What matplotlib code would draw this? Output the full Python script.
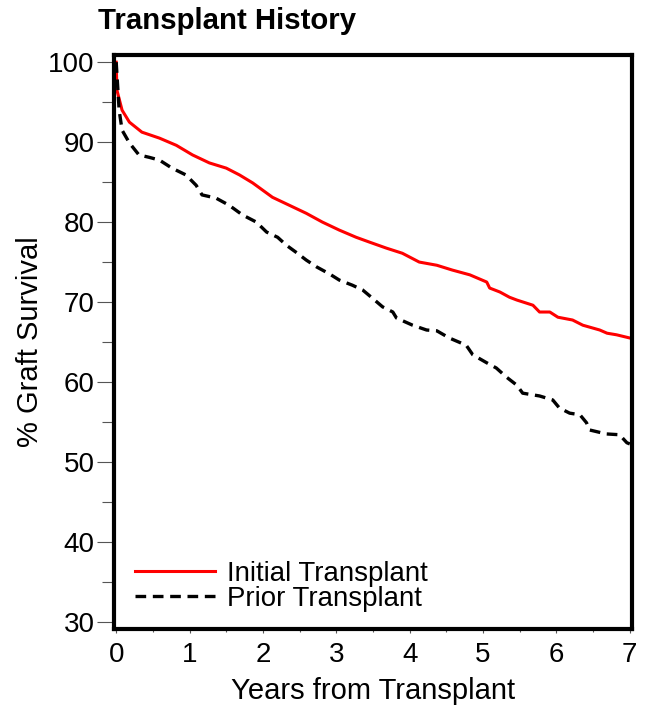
import numpy as np
import matplotlib
matplotlib.use("Agg")
import matplotlib.pyplot as plt
from matplotlib.ticker import MultipleLocator

plt.rcParams['font.family'] = ['Liberation Sans', 'DejaVu Sans']

# -----------------
# data
# -----------------
initial_years = [0.0, 0.01, 0.08, 0.18, 0.35, 0.59, 0.82, 1.04, 1.27, 1.50, 1.68,
                 1.86, 2.13, 2.36, 2.59, 2.81, 3.04, 3.27, 3.45, 3.68, 3.90, 4.13,
                 4.37, 4.58, 4.82, 5.05, 5.09, 5.23, 5.36, 5.46, 5.68, 5.77, 5.91,
                 6.02, 6.22, 6.36, 6.59, 6.69, 6.82, 7.0]
initial_surv = [100.0, 96.5, 94.0, 92.5, 91.25, 90.5, 89.6, 88.4, 87.4, 86.75, 85.9,
                84.9, 83.1, 82.1, 81.1, 80.0, 79.0, 78.1, 77.5, 76.75, 76.1, 75.0,
                74.6, 74.0, 73.4, 72.5, 71.75, 71.25, 70.6, 70.25, 69.6, 68.75, 68.75,
                68.1, 67.75, 67.1, 66.5, 66.1, 65.9, 65.5]

prior_years = [0.0, 0.04, 0.08, 0.18, 0.31, 0.45, 0.59, 0.76, 0.95, 1.09, 1.17,
               1.36, 1.54, 1.72, 1.91, 2.05, 2.20, 2.32, 2.47, 2.59, 2.73, 2.91,
               3.04, 3.22, 3.36, 3.49, 3.63, 3.77, 3.82, 4.04, 4.23, 4.37, 4.54,
               4.77, 4.86, 5.05, 5.18, 5.32, 5.46, 5.54, 5.77, 5.95, 6.04, 6.18,
               6.32, 6.41, 6.45, 6.68, 6.86, 6.96, 7.0]
prior_surv = [100.0, 94.0, 91.5, 89.9, 88.4, 88.1, 87.75, 86.75, 85.9, 84.6, 83.4,
              83.0, 82.1, 80.9, 80.0, 78.75, 78.1, 77.1, 76.1, 75.25, 74.4, 73.5,
              72.75, 72.1, 71.5, 70.5, 69.4, 68.75, 68.0, 67.1, 66.5, 66.4, 65.5,
              64.6, 63.4, 62.4, 61.75, 60.6, 59.6, 58.6, 58.25, 57.75, 56.75, 56.1,
              55.9, 54.9, 54.0, 53.5, 53.4, 52.4, 52.25]

labels = ["Initial Transplant", "Prior Transplant"]

# ----------
# Plot
# ----------
fig = plt.figure(figsize=(6.54, 7.13), dpi=100)
ax = fig.add_axes([114 / 654, 1 - 629 / 713, (632 - 114) / 654, (629 - 55) / 713])

ax.plot(initial_years, initial_surv, color="#ff0000", lw=2.2, label=labels[0])
ax.plot(prior_years, prior_surv, color="black", lw=2.4, dashes=(3.2, 2.0),
        label=labels[1])

ax.set_xlim(-0.03, 7.03)
ax.set_ylim(29.1, 100.9)

ax.xaxis.set_major_locator(MultipleLocator(1))
ax.xaxis.set_minor_locator(MultipleLocator(0.5))
ax.yaxis.set_major_locator(MultipleLocator(10))
ax.yaxis.set_minor_locator(MultipleLocator(5))

for s in ax.spines.values():
    s.set_linewidth(3.0)

ax.tick_params(axis="y", which="major", direction="out", length=12, width=0.8,
               color="#555555", labelsize=20, pad=2)
ax.tick_params(axis="y", which="minor", direction="out", length=9, width=0.8,
               color="#555555")
ax.tick_params(axis="x", which="major", direction="out", length=3, width=0.8,
               color="#555555", labelsize=20, pad=6)
ax.tick_params(axis="x", which="minor", direction="out", length=2, width=0.8,
               color="#555555")

ax.set_xlabel("Years from Transplant", fontsize=21, labelpad=7)
ax.set_ylabel("% Graft Survival", fontsize=21, labelpad=3)

fig.text(98 / 654, 1 - 21 / 713, "Transplant History", fontsize=21.2,
         fontweight="bold", ha="left", va="center")

ax.legend(loc="lower left", bbox_to_anchor=(0.04, 0.03), frameon=False,
          fontsize=19.9, handlelength=2.9, handletextpad=0.45, labelspacing=-0.05,
          borderpad=0, borderaxespad=0)

fig.savefig("out.png", dpi=100)
plt.close(fig)
